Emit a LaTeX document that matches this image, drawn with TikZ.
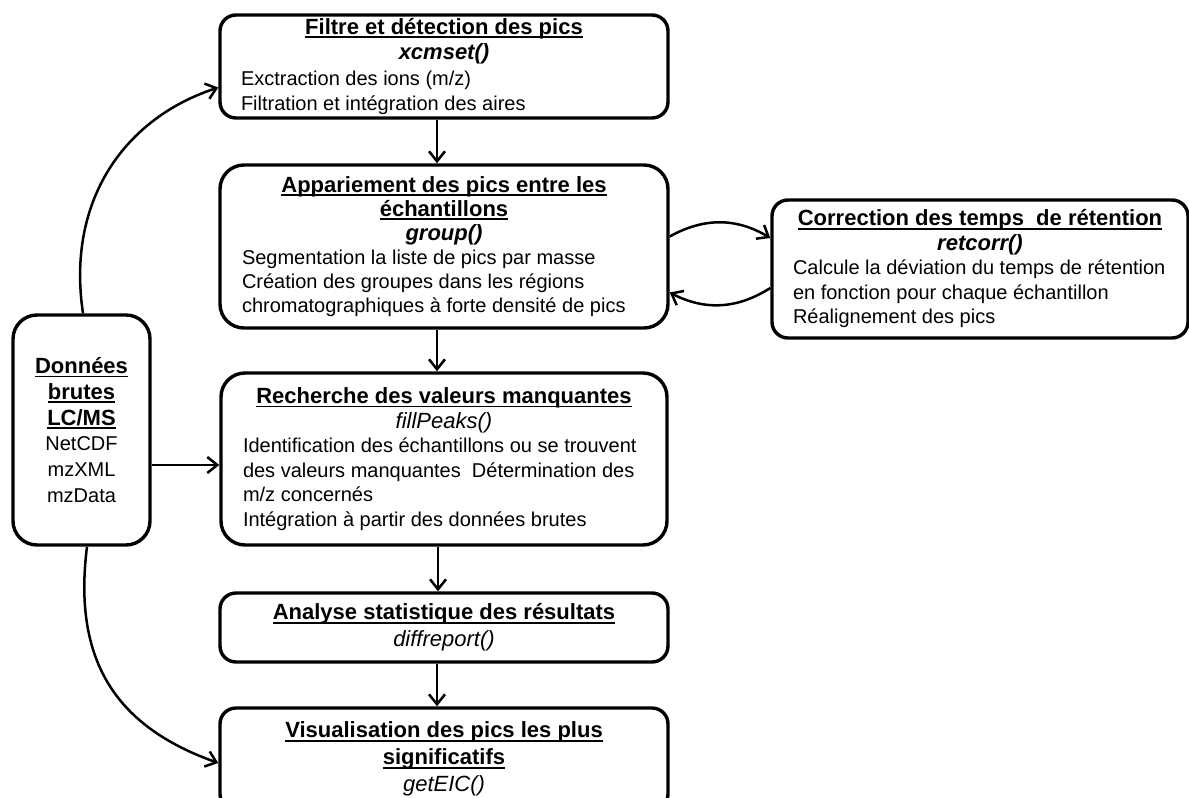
\documentclass[tikz,border=0pt]{standalone}
\usepackage{fontspec}
\setmainfont{Liberation Sans}
\usetikzlibrary{arrows.meta}
\newcommand{\ttl}[1]{{\bfs\bfseries\setbox0=\hbox{#1}\leavevmode\rlap{\rule[-4pt]{\wd0}{1.9pt}}\box0}}
\newcommand{\bfs}{\fontsize{22}{26}\selectfont}
\newcommand{\nrm}{\fontsize{20}{25}\selectfont}
\newcommand{\fnb}[1]{{\bfs\bfseries\itshape #1}}
\newcommand{\fni}[1]{{\bfs\itshape #1}}
\newcommand{\lc}[1]{\hbox to\hsize{\hfil#1\hfil}}
\newcommand{\lft}[1]{\hbox to\hsize{#1\hfil}}
\newcommand{\stack}[3]{\vbox{\hsize=#1\baselineskip=#2\lineskiplimit=-\maxdimen\lineskip=0pt #3}}
\tikzset{
  box/.style={draw=black, line width=3.4pt, rounded corners=16pt, inner sep=0pt, font=\nrm},
  arr/.style={line width=2.5pt, -{Straight Barb[length=10pt,width=16pt]}},
}
\begin{document}
\begin{tikzpicture}[x=1pt,y=1pt]
\fill[white] (0,0) rectangle (1189,-798);
\useasboundingbox (0,0) rectangle (1189,-798);

\node[box, minimum width=448pt, minimum height=103pt] (A) at (444,-66.5)
{\stack{406pt}{25.5pt}{\lc{\ttl{Filtre et détection des pics}}\lc{\fnb{xcmset()}}%
\lft{Exctraction des ions (m/z)}\lft{Filtration et intégration des aires}}};

\node[box, minimum width=448pt, minimum height=163pt, rounded corners=24pt] (B) at (444,-246.5)
{\stack{404pt}{24pt}{\lc{\ttl{Appariement des pics entre les}}\lc{\ttl{échantillons}}\lc{\fnb{group()}}%
\lft{Segmentation la liste de pics par masse}\lft{Création des groupes dans les régions}%
\lft{chromatographiques à forte densité de pics}}};

\node[box, minimum width=416pt, minimum height=138pt] (C) at (980,-269)
{\stack{374pt}{24.5pt}{\lc{\ttl{Correction des temps~ de rétention}}\lc{\fnb{retcorr()}}%
\lft{Calcule la déviation du temps de rétention}\lft{en fonction pour chaque échantillon}%
\lft{Réalignement des pics}}};

\node[box, minimum width=137pt, minimum height=230pt, rounded corners=24pt] (D) at (81.5,-430)
{\stack{127pt}{25.8pt}{\lc{\ttl{Données}}\lc{\ttl{brutes}}\lc{\ttl{LC/MS}}%
\lc{NetCDF}\lc{mzXML}\lc{mzData}}};

\node[box, minimum width=446pt, minimum height=172pt, rounded corners=24pt] (E) at (444,-459)
{\stack{402pt}{24.6pt}{\lc{\ttl{Recherche des valeurs manquantes}}\lc{\fni{fillPeaks()}}%
\lft{Identification des échantillons ou se trouvent}%
\lft{des valeurs manquantes~ Détermination des}\lft{m/z concernés}%
\lft{Intégration à partir des données brutes}}};

\node[box, minimum width=448pt, minimum height=69pt] (F) at (444,-627.5)
{\stack{406pt}{27pt}{\lc{\ttl{Analyse statistique des résultats}}\lc{\fni{diffreport()}}}};

\node[box, minimum width=448pt, minimum height=102pt] (G) at (444,-759)
{\stack{406pt}{27pt}{\lc{\ttl{Visualisation des pics les plus}}\lc{\ttl{significatifs}}\lc{\fni{getEIC()}}}};

\draw[arr] ([xshift=-7pt]A.south) -- ([xshift=-7pt]B.north);
\draw[arr] ([xshift=-7pt]B.south) -- ([xshift=-7pt]E.north);
\draw[arr] ([xshift=-6pt]E.south) -- ([xshift=-6pt]F.north);
\draw[arr] ([xshift=-7pt]F.south) -- ([xshift=-7pt]G.north);
\draw[arr] ([yshift=-35pt]D.east) -- ([yshift=-6pt]E.west);
\draw[arr] ([yshift=10pt]B.east) to[bend left=30] ([yshift=31pt]C.west);
\draw[arr] ([yshift=-19pt]C.west) to[bend left=30] ([yshift=-46pt]B.east);
\draw[arr] ([xshift=1.5pt]D.north) .. controls (66,-200) and (125,-118) .. ([yshift=-21pt]A.west);
\draw[arr] ([xshift=5.5pt]D.south) .. controls (72,-665) and (120,-728) .. ([yshift=-4pt]G.west);
\end{tikzpicture}
\end{document}
